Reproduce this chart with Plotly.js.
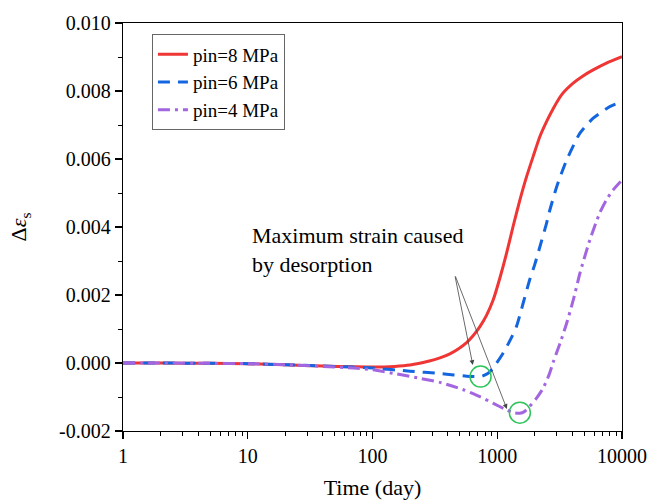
<!DOCTYPE html>
<html><head><meta charset="utf-8">
<script src="https://cdn.plot.ly/plotly-3.0.1.min.js"></script>
<style>body{margin:0;background:#fff}#chart{width:651px;height:501px}</style>
</head><body><div id="chart"></div>
<script>
// Data
const redX = [1, 2, 5, 10, 20, 40, 70, 100, 150, 200, 280, 347, 417, 490, 568, 640, 726, 820, 927, 1050, 1188, 1342, 1518, 1718, 1950, 2197, 2500, 2806, 3300, 4060, 4900, 5875, 7500, 10000];
const redY = [0, 0, -0.00001, -0.00002, -0.00005, -0.00009, -0.00011, -0.00012, -0.0001, -0.00006, 0.00005, 0.00015, 0.00027, 0.00042, 0.0006, 0.0008, 0.00107, 0.0014, 0.00185, 0.0025, 0.00323, 0.00403, 0.00479, 0.00548, 0.0061, 0.00666, 0.00712, 0.00748, 0.0079, 0.00823, 0.00845, 0.00862, 0.00882, 0.00901];
const blueX = [1, 2, 5, 10, 20, 40, 70, 100, 200, 347, 450, 568, 650, 735, 800, 872, 980, 1110, 1260, 1424, 1610, 1817, 2000, 2197, 2480, 2640, 3000, 3600, 4600, 5875, 7980, 10000];
const blueY = [0, 0, -0.00001, -0.00002, -0.00005, -0.00009, -0.00012, -0.00015, -0.00024, -0.00031, -0.00035, -0.00039, -0.0004, -0.0004, -0.00035, -0.00026, -0.00002, 0.00028, 0.00065, 0.00107, 0.00175, 0.00244, 0.0029, 0.00342, 0.0041, 0.0045, 0.00519, 0.00597, 0.00676, 0.0072, 0.00754, 0.00769];
const purpleX = [1, 2, 5, 10, 20, 40, 70, 100, 156, 240, 347, 530, 726, 922, 1188, 1350, 1518, 1650, 1817, 2050, 2325, 2600, 2806, 3200, 3600, 4100, 4600, 5525, 6610, 7500, 8500, 10000];
const purpleY = [0, 0, -0.00001, -0.00002, -0.00005, -0.0001, -0.00015, -0.0002, -0.00032, -0.00045, -0.00057, -0.00078, -0.00099, -0.00118, -0.00138, -0.00146, -0.00148, -0.00143, -0.00128, -0.00105, -0.00075, -0.00035, 0.00002, 0.0006, 0.00117, 0.0019, 0.00264, 0.00362, 0.0044, 0.0048, 0.00509, 0.00538];
const seriesNames = ["pin=8 MPa", "pin=6 MPa", "pin=4 MPa"];
const circleX = [735, 1518];
const circleY = [-0.0004, -0.00146];
const xTickVals = [1, 10, 100, 1000, 10000];
const xTickText = ["1", "10", "100", "1000", "10000"];
const yTickVals = [-0.002, 0, 0.002, 0.004, 0.006, 0.008, 0.010];
const yTickText = ["-0.002", "0.000", "0.002", "0.004", "0.006", "0.008", "0.010"];
const arrowHeads = [[637, -0.00006], [1194, -0.00135]];

const FONT = "Liberation Serif";

const traces = [
  {x: redX, y: redY, name: seriesNames[0], mode: 'lines', line: {color: '#f03535', width: 3, shape: 'spline', smoothing: 0.6}},
  {x: blueX, y: blueY, name: seriesNames[1], mode: 'lines', line: {color: '#1466e0', width: 3, dash: '12px,8px', shape: 'spline', smoothing: 0.6}},
  {x: purpleX, y: purpleY, name: seriesNames[2], mode: 'lines', line: {color: '#a366e0', width: 3, dash: '12px,5px,3px,5px', shape: 'spline', smoothing: 0.6}},
  {x: circleX, y: circleY, mode: 'markers', showlegend: false, hoverinfo: 'skip',
   marker: {symbol: 'circle-open', size: 21, color: '#2ec45a', line: {width: 1.5, color: '#2ec45a'}}}
];

const layout = {
  width: 651, height: 501,
  margin: {l: 123, r: 29, t: 23, b: 70},
  paper_bgcolor: '#fff', plot_bgcolor: '#fff',
  font: {family: FONT, color: '#000', size: 19},
  showlegend: true,
  legend: {x: 0.058, y: 0.972, xanchor: 'left', yanchor: 'top', bordercolor: '#666', borderwidth: 1,
           bgcolor: '#fff', font: {family: FONT, size: 19}, tracegroupgap: 0},
  xaxis: {
    type: 'log', range: [0, 4], tickvals: xTickVals, ticktext: xTickText,
    showline: true, linecolor: '#000', linewidth: 1.3, mirror: true,
    ticks: 'outside', ticklen: 7, tickwidth: 1.3, tickcolor: '#000',
    minor: {ticks: 'outside', ticklen: 4, tickwidth: 1, tickcolor: '#000', dtick: 'D1', showgrid: false},
    showgrid: false, zeroline: false,
    tickfont: {family: FONT, size: 20},
    title: {text: 'Time (day)', font: {family: FONT, size: 22}, standoff: 13}
  },
  yaxis: {
    range: [-0.002, 0.010], tickvals: yTickVals, ticktext: yTickText,
    showline: true, linecolor: '#000', linewidth: 1.3, mirror: true,
    ticks: 'outside', ticklen: 7, tickwidth: 1.3, tickcolor: '#000',
    minor: {ticks: 'outside', ticklen: 4, tickwidth: 1, tickcolor: '#000', dtick: 0.001, showgrid: false},
    showgrid: false, zeroline: false,
    tickfont: {family: FONT, size: 20},
    title: {text: 'Δ<i>ε</i><sub>s</sub>', font: {family: FONT, size: 22}, standoff: 26}
  },
  annotations: [
    {xref: 'paper', yref: 'paper', x: 0.254, y: 0.515, xanchor: 'left', yanchor: 'top', align: 'left',
     showarrow: false, text: 'Maximum strain caused<br>by desorption', font: {family: FONT, size: 22}},
    {xref: 'x', yref: 'y', x: Math.log10(arrowHeads[0][0]), y: arrowHeads[0][1], ax: -18, ay: -90,
     showarrow: true, arrowhead: 2, arrowsize: 1.2, arrowwidth: 0.8, arrowcolor: '#444', text: ''},
    {xref: 'x', yref: 'y', x: Math.log10(arrowHeads[1][0]), y: arrowHeads[1][1], ax: -52, ay: -134,
     showarrow: true, arrowhead: 2, arrowsize: 1.2, arrowwidth: 0.8, arrowcolor: '#444', text: ''}
  ]
};

Plotly.newPlot('chart', traces, layout, {staticPlot: true, displayModeBar: false});
</script></body></html>
